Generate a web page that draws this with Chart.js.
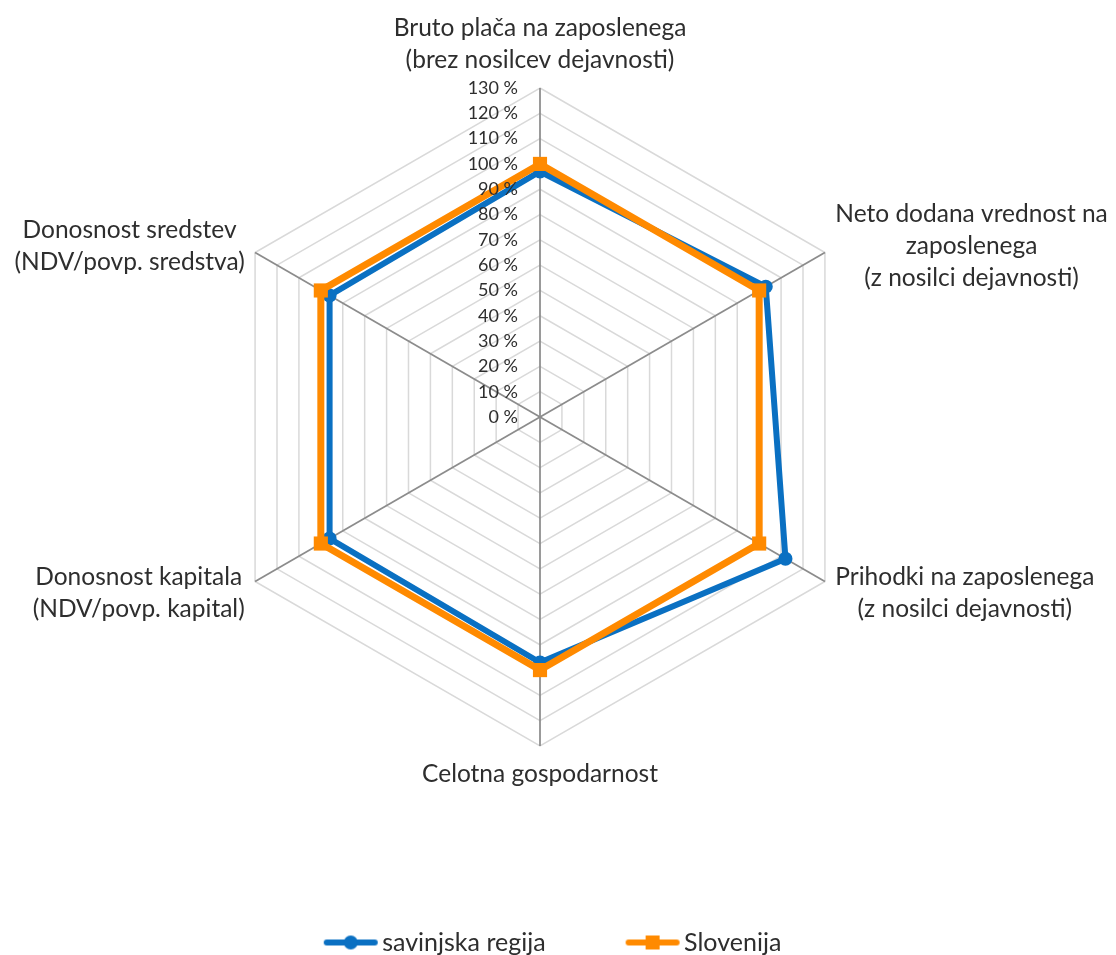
<!DOCTYPE html>
<html>
<head>
<meta charset="utf-8">
<title>Radar</title>
<script src="https://cdn.jsdelivr.net/npm/chart.js@4.4.1/dist/chart.umd.min.js"></script>
<style>
  html, body { margin: 0; padding: 0; background: #fff; }
  #wrap { width: 1116px; height: 955px; position: relative; }
</style>
</head>
<body>
<div id="wrap"><canvas id="radarChart"></canvas></div>
<script>
// categories, clockwise from the top
var categories = [
  ['Bruto plača na zaposlenega', '(brez nosilcev dejavnosti)'],
  ['Neto dodana vrednost na', 'zaposlenega', '(z nosilci dejavnosti)'],
  ['Prihodki na zaposlenega', '(z nosilci dejavnosti)'],
  ['Celotna gospodarnost'],
  ['Donosnost kapitala', '(NDV/povp. kapital)'],
  ['Donosnost sredstev', '(NDV/povp. sredstva)']
];
var savinjska = [97, 103, 112, 97, 96, 96];
var slovenija = [100, 100, 100, 100, 100, 100];
var tickLabels = ['0 %', '10 %', '20 %', '30 %', '40 %', '50 %', '60 %',
  '70 %', '80 %', '90 %', '100 %', '110 %', '120 %', '130 %'];

var BLUE = '#0a70c2';
var ORANGE = '#ff8a00';
var TEXT = '#2e2e2e';
var FONT = 'Lato';

// radar geometry, same as in the picture
var CX = 540, CY = 417, RADIUS = 329;
var LINE_H = 32;

function legendIcon(color, marker) {
  var c = document.createElement('canvas');
  c.width = 64; c.height = 18;
  var g = c.getContext('2d');
  g.strokeStyle = color;
  g.lineWidth = 6;
  g.lineCap = 'round';
  g.beginPath(); g.moveTo(12, 9); g.lineTo(60, 9); g.stroke();
  g.fillStyle = color;
  if (marker === 'circle') {
    g.beginPath(); g.arc(36, 9, 7, 0, Math.PI * 2); g.fill();
  } else {
    g.fillRect(29, 2, 14, 14);
  }
  return c;
}
var icons = [legendIcon(BLUE, 'circle'), legendIcon(ORANGE, 'rect')];

// tick and category texts, placed like Excel does
var radarText = {
  id: 'radarText',
  afterDatasetsDraw: function (chart) {
    var scale = chart.scales.r;
    var ctx = chart.ctx;
    ctx.save();
    ctx.fillStyle = TEXT;

    ctx.font = '18px ' + FONT;
    ctx.textAlign = 'right';
    ctx.textBaseline = 'middle';
    scale.ticks.forEach(function (tick, i) {
      var y = scale.yCenter - scale.getDistanceFromCenterForValue(tick.value);
      ctx.fillText(tickLabels[i], scale.xCenter - 22, y);
    });

    ctx.font = '24.5px ' + FONT;
    ctx.textAlign = 'center';
    categories.forEach(function (lines, i) {
      var p = scale.getPointPosition(i, scale.drawingArea + 12);
      var w = Math.max.apply(null, lines.map(function (l) { return ctx.measureText(l).width; }));
      var h = lines.length * LINE_H;
      var dx = p.x - scale.xCenter;
      var cx, top;
      if (Math.abs(dx) < 1) {
        cx = p.x;
        top = p.y < scale.yCenter ? p.y - h : p.y;
      } else {
        cx = dx > 0 ? p.x + w / 2 : p.x - w / 2;
        top = p.y - h / 2 + (p.y > scale.yCenter ? 6 : 0);
      }
      lines.forEach(function (l, k) {
        ctx.fillText(l, cx, top + LINE_H * (k + 0.5));
      });
    });
    ctx.restore();
  }
};

var radarChart = new Chart(document.getElementById('radarChart'), {
  type: 'radar',
  data: {
    labels: categories,
    datasets: [
      {
        label: 'savinjska regija',
        data: savinjska,
        borderColor: BLUE,
        backgroundColor: BLUE,
        borderWidth: 6,
        fill: false,
        pointStyle: 'circle',
        pointRadius: 7,
        pointBackgroundColor: BLUE,
        pointBorderWidth: 0,
        order: 1
      },
      {
        label: 'Slovenija',
        data: slovenija,
        borderColor: ORANGE,
        backgroundColor: ORANGE,
        borderWidth: 7,
        fill: false,
        pointStyle: 'rect',
        pointRadius: 10,
        pointBackgroundColor: ORANGE,
        pointBorderWidth: 0,
        order: 0
      }
    ]
  },
  options: {
    responsive: true,
    maintainAspectRatio: false,
    animation: false,
    layout: { padding: { top: 0, left: 0, right: 11, bottom: -10 } },
    elements: { line: { tension: 0, borderJoinStyle: 'miter' } },
    scales: {
      r: {
        min: 0,
        max: 130,
        ticks: { stepSize: 10, display: false },
        pointLabels: { display: false },
        grid: { color: '#d9d9d9', lineWidth: 1.5 },
        angleLines: { color: '#8c8c8c', lineWidth: 1.75 },
        afterSetDimensions: function (scale) {
          scale.xCenter = CX;
          scale.yCenter = CY;
          scale.drawingArea = RADIUS;
        }
      }
    },
    plugins: {
      tooltip: { enabled: false },
      legend: {
        position: 'bottom',
        labels: {
          usePointStyle: true,
          pointStyleWidth: 46,
          padding: 80,
          color: TEXT,
          font: { family: FONT, size: 25 },
          generateLabels: function (chart) {
            return chart.data.datasets.map(function (ds, i) {
              return {
                text: ds.label,
                pointStyle: icons[i],
                fillStyle: ds.borderColor,
                strokeStyle: ds.borderColor,
                lineWidth: 0,
                hidden: false,
                datasetIndex: i,
                fontColor: TEXT
              };
            });
          }
        }
      }
    }
  },
  plugins: [radarText]
});
</script>
</body>
</html>
